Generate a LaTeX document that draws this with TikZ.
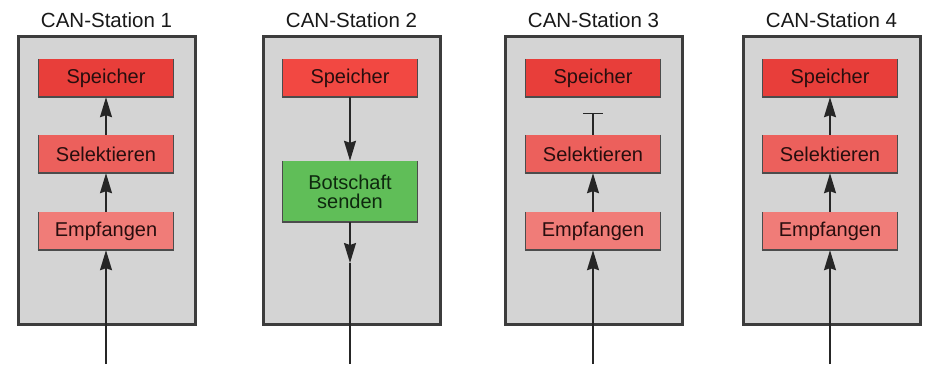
\documentclass[tikz,border=0pt]{standalone}
\usepackage{fontspec}
\setmainfont{Liberation Sans}
\usetikzlibrary{arrows.meta}
\definecolor{bggray}{RGB}{212,212,212}
\definecolor{frame}{RGB}{60,60,60}
\definecolor{redA}{RGB}{232,62,58}
\definecolor{redA2}{RGB}{242,72,66}
\definecolor{redB}{RGB}{236,96,92}
\definecolor{redC}{RGB}{240,124,120}
\definecolor{greenA}{RGB}{96,190,88}
\definecolor{txtred}{RGB}{40,14,14}
\definecolor{txtgreen}{RGB}{14,40,14}
\begin{document}
\begin{tikzpicture}[x=1pt,y=-1pt,
  station/.style={draw=frame,fill=bggray,line width=3pt,minimum width=177pt,minimum height=288pt,inner sep=0pt},
  title/.style={font=\fontsize{20.5}{22}\selectfont,text=black!90},
  inbox/.style={minimum width=135pt,minimum height=38pt,inner sep=0pt,font=\fontsize{20}{19}\selectfont,text=txtred},
  arr/.style={line width=1.6pt,draw=black!85,-{Stealth[length=20pt,width=12pt,inset=2pt]}},
  plain/.style={line width=1.6pt,draw=black!85},
  shade/.style={draw=black!70,line width=1.2pt},
  shadeb/.style={draw=black!70,line width=2.2pt}
]
\useasboundingbox (0,0) rectangle (947,364);
\fill[white] (0,0) rectangle (947,364);

% stations
\foreach \i/\x in {1/106.5,2/351.5,3/593.5,4/831.5}{
  \node[station] (st\i) at (\x,180) {};
  \node[title] (ti\i) at (\x,20) {CAN-Station \i};
}

% station 1
\node[inbox,fill=redA] (sp1) at (106,78) {Speicher};
\node[inbox,fill=redB] (se1) at (106,154) {Selektieren};
\node[inbox,fill=redC] (em1) at (106,231) {Empfangen};
% station 2
\node[inbox,fill=redA2] (sp2) at (350,78) {Speicher};
\node[inbox,fill=greenA,minimum height=61pt,text=txtgreen,align=center] (bo2) at (350,191.5) {Botschaft\\senden};
% station 3
\node[inbox,fill=redA] (sp3) at (593,78) {Speicher};
\node[inbox,fill=redB] (se3) at (593,154) {Selektieren};
\node[inbox,fill=redC] (em3) at (593,231) {Empfangen};
% station 4
\node[inbox,fill=redA] (sp4) at (830,78) {Speicher};
\node[inbox,fill=redB] (se4) at (830,154) {Selektieren};
\node[inbox,fill=redC] (em4) at (830,231) {Empfangen};

% box edges (darker left/right/bottom)
\foreach \n in {sp1,se1,em1,sp2,bo2,sp3,se3,em3,sp4,se4,em4}{
  \draw[shade] (\n.north west) -- (\n.south west);
  \draw[shade] (\n.north east) -- (\n.south east);
  \draw[shadeb] ([xshift=-0.6pt]\n.south west) -- ([xshift=0.6pt]\n.south east);
}

% bus coordinates
\coordinate (b1) at (106,364);
\coordinate (b2) at (350,364);
\coordinate (b3) at (593,364);
\coordinate (b4) at (830,364);
\coordinate (m2) at (350,263);
\coordinate (t3) at (593,113);

% station 1 connectors
\draw[arr] (b1) -- (em1.south);
\draw[arr] (em1.north) -- (se1.south);
\draw[arr] (se1.north) -- (sp1.south);
% station 2 connectors
\draw[arr] (sp2.south) -- (bo2.north);
\draw[arr] (bo2.south) -- (m2);
\draw[plain] (m2) -- (b2);
% station 3 connectors
\draw[arr] (b3) -- (em3.south);
\draw[arr] (em3.north) -- (se3.south);
\draw[line width=1.3pt,draw=black!85,-{Bar[width=20pt,line width=1.3pt]}] (se3.north) -- (t3);
% station 4 connectors
\draw[arr] (b4) -- (em4.south);
\draw[arr] (em4.north) -- (se4.south);
\draw[arr] (se4.north) -- (sp4.south);
\end{tikzpicture}
\end{document}
